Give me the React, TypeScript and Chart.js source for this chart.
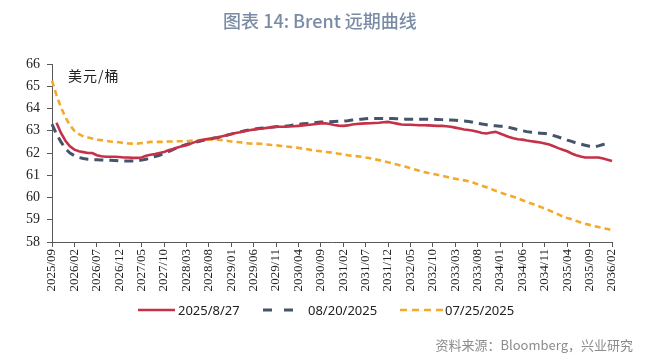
import React, { useEffect, useRef } from "react";
import { Chart, registerables } from "chart.js";

Chart.register(...registerables);

function monthLabels(startYear: number, startMonth: number, count: number): string[] {
  const out: string[] = [];
  let y = startYear;
  let m = startMonth;
  for (let i = 0; i < count; i++) {
    out.push(`${y}/${m < 10 ? "0" + m : m}`);
    m++;
    if (m > 12) { m = 1; y++; }
  }
  return out;
}

const categories: string[] = monthLabels(2025, 9, 126);

const yTicks: number[] = [58, 59, 60, 61, 62, 63, 64, 65, 66];

const seriesNames: string[] = ["2025/8/27", "08/20/2025", "07/25/2025"];

const curve0827: (number | null)[] = [
  null, 63.36, 62.9, 62.55, 62.3, 62.15, 62.08, 62.04, 62.0, 62.0,
  61.9, 61.85, 61.83, 61.83, 61.83, 61.82, 61.8, 61.8, 61.78, 61.78,
  61.8, 61.88, 61.92, 61.95, 62.0, 62.05, 62.12, 62.18, 62.25, 62.3,
  62.35, 62.42, 62.5, 62.56, 62.6, 62.64, 62.67, 62.7, 62.75, 62.8,
  62.85, 62.9, 62.93, 62.98, 63.02, 63.05, 63.08, 63.1, 63.13, 63.16,
  63.18, 63.18, 63.18, 63.19, 63.2, 63.22, 63.24, 63.26, 63.28, 63.3,
  63.33, 63.34, 63.3, 63.26, 63.23, 63.22, 63.24, 63.28, 63.3, 63.32,
  63.33, 63.34, 63.35, 63.36, 63.38, 63.4, 63.36, 63.32, 63.28, 63.27,
  63.27, 63.26, 63.25, 63.25, 63.24, 63.23, 63.22, 63.22, 63.2, 63.18,
  63.14, 63.1, 63.06, 63.03, 63.0, 62.95, 62.9, 62.88, 62.92, 62.95,
  62.88, 62.8, 62.72, 62.66, 62.62, 62.6, 62.56, 62.53, 62.5, 62.47,
  62.43, 62.38, 62.3, 62.22, 62.15, 62.08, 61.98, 61.9, 61.84, 61.8,
  61.8, 61.8, 61.8, 61.75, 61.7, 61.64,
];

const curve0820: (number | null)[] = [
  63.3, 62.85, 62.5, 62.2, 62.0, 61.88, 61.8, 61.75, 61.72, 61.7,
  61.7, 61.69, 61.68, 61.67, 61.66, 61.65, 61.64, 61.64, 61.64, 61.65,
  61.68, 61.72, 61.78, 61.84, 61.9, 61.98, 62.06, 62.15, 62.25, 62.32,
  62.38, 62.43, 62.48, 62.53, 62.58, 62.62, 62.66, 62.7, 62.75, 62.8,
  62.85, 62.9, 62.95, 63.0, 63.04, 63.07, 63.1, 63.12, 63.14, 63.16,
  63.18, 63.19, 63.2, 63.23, 63.26, 63.29, 63.31, 63.33, 63.35, 63.37,
  63.39, 63.4, 63.41, 63.42, 63.43, 63.43, 63.45, 63.48, 63.5, 63.52,
  63.54, 63.55, 63.55, 63.55, 63.55, 63.55, 63.55, 63.54, 63.53, 63.52,
  63.52, 63.52, 63.52, 63.52, 63.52, 63.52, 63.51, 63.5, 63.49, 63.48,
  63.47, 63.45, 63.44, 63.42, 63.38, 63.34, 63.3, 63.27, 63.24, 63.22,
  63.2, 63.2, 63.15, 63.1, 63.05, 63.0, 62.96, 62.93, 62.9, 62.89,
  62.88, 62.84, 62.78, 62.72, 62.65, 62.58, 62.52, 62.45, 62.4, 62.35,
  62.3, 62.27, 62.32, 62.38, 62.42, null,
];

const curve0725: (number | null)[] = [
  65.25, 64.6, 64.05, 63.6, 63.25, 63.0, 62.85, 62.75, 62.7, 62.65,
  62.6, 62.58, 62.55, 62.52, 62.5, 62.48, 62.45, 62.43, 62.42, 62.42,
  62.45, 62.47, 62.5, 62.5, 62.5, 62.5, 62.52, 62.52, 62.53, 62.53,
  62.53, 62.55, 62.56, 62.58, 62.6, 62.6, 62.6, 62.6, 62.58, 62.55,
  62.52, 62.5, 62.48, 62.45, 62.43, 62.42, 62.42, 62.4, 62.38, 62.36,
  62.35, 62.32, 62.3, 62.28, 62.25, 62.23, 62.2, 62.17, 62.13, 62.1,
  62.08, 62.05, 62.03, 62.0, 61.97, 61.94, 61.9, 61.88, 61.86, 61.83,
  61.8, 61.76, 61.72, 61.68, 61.64, 61.58, 61.53, 61.48, 61.43, 61.38,
  61.32, 61.26, 61.2, 61.15, 61.1, 61.06, 61.02, 60.98, 60.93, 60.88,
  60.84, 60.8, 60.77, 60.73, 60.67, 60.6, 60.53, 60.46, 60.38, 60.3,
  60.23, 60.16, 60.1, 60.03, 59.96, 59.88, 59.8, 59.73, 59.66, 59.58,
  59.5, 59.42, 59.33, 59.24, 59.15, 59.08, 59.02, 58.95, 58.88, 58.82,
  58.77, 58.72, 58.67, 58.62, 58.58, 58.53,
];

const RED = "#C43148";
const BLUE = "#44546A";
const GOLD = "#F3A92A";

export default function App() {
  const canvasRef = useRef<HTMLCanvasElement | null>(null);

  useEffect(() => {
    if (!canvasRef.current) return;
    const chart = new Chart(canvasRef.current, {
      type: "line",
      data: {
        labels: categories,
        datasets: [
          {
            label: seriesNames[0],
            data: curve0827,
            borderColor: RED,
            backgroundColor: RED,
            borderWidth: 2.6,
            pointRadius: 0,
            tension: 0,
          },
          {
            label: seriesNames[1],
            data: curve0820,
            borderColor: BLUE,
            backgroundColor: BLUE,
            borderWidth: 3,
            borderDash: [9, 6],
            pointRadius: 0,
            tension: 0,
          },
          {
            label: seriesNames[2],
            data: curve0725,
            borderColor: GOLD,
            backgroundColor: GOLD,
            borderWidth: 2.6,
            borderDash: [6, 4],
            pointRadius: 0,
            tension: 0,
          },
        ],
      },
      options: {
        animation: false,
        responsive: false,
        maintainAspectRatio: false,
        layout: { padding: { left: 0, right: 48, top: 64, bottom: 0 } },
        plugins: {
          legend: { display: false },
          tooltip: { enabled: false },
          title: { display: false },
        },
        scales: {
          x: {
            type: "category",
            offset: false,
            grid: {
              display: true,
              drawOnChartArea: false,
              drawTicks: true,
              tickLength: 5,
              color: "#595959",
            },
            border: { display: true, color: "#595959", width: 1 },
            ticks: {
              autoSkip: false,
              maxRotation: 90,
              minRotation: 90,
              padding: 2,
              color: "#222",
              font: { family: "'Liberation Serif', serif", size: 13 },
              callback: (_v: any, index: number) =>
                index % 5 === 0 ? categories[index] : null,
            },
            afterFit: (s: any) => {
              s.height = 117;
            },
          },
          y: {
            min: yTicks[0],
            max: yTicks[yTicks.length - 1],
            afterBuildTicks: (s: any) => {
              s.ticks = yTicks.map((v) => ({ value: v }));
            },
            grid: {
              display: true,
              drawOnChartArea: false,
              drawTicks: true,
              tickLength: 5,
              color: "#595959",
            },
            border: { display: true, color: "#595959", width: 1 },
            ticks: {
              padding: 7,
              color: "#222",
              font: { family: "'Liberation Serif', serif", size: 14 },
            },
            afterFit: (s: any) => {
              s.width = 52;
            },
          },
        },
      },
    });
    return () => chart.destroy();
  }, []);

  const legendText: React.CSSProperties = {
    position: "absolute",
    top: 301,
    fontFamily: "'Noto Sans', sans-serif",
    fontSize: 13,
    color: "#222",
    lineHeight: "18px",
    whiteSpace: "nowrap",
  };

  return (
    <div
      style={{
        position: "fixed",
        left: 0,
        top: 0,
        width: 660,
        height: 359,
        background: "#fff",
        overflow: "hidden",
      }}
    >
      <canvas
        ref={canvasRef}
        width={660}
        height={359}
        style={{ position: "absolute", left: 0, top: 0, width: 660, height: 359 }}
      />
      <div
        style={{
          position: "absolute",
          left: 0,
          top: 8,
          width: 640,
          textAlign: "center",
          fontFamily: "'Noto Sans CJK SC', sans-serif",
          fontSize: 18,
          fontWeight: 500,
          color: "#7A8BA5",
          lineHeight: "24px",
        }}
      >
        图表 14: Brent 远期曲线
      </div>
      <div
        style={{
          position: "absolute",
          left: 68,
          top: 65,
          fontFamily: "'Noto Sans CJK SC', sans-serif",
          fontSize: 14,
          color: "#222",
          lineHeight: "20px",
          letterSpacing: 1,
        }}
      >
        美元/桶
      </div>
      <svg
        width={660}
        height={20}
        style={{ position: "absolute", left: 0, top: 300 }}
      >
        <line x1={138} y1={10} x2={175} y2={10} stroke={RED} strokeWidth={2.6} />
        <line
          x1={263}
          y1={10}
          x2={294}
          y2={10}
          stroke={BLUE}
          strokeWidth={3}
          strokeDasharray="9 12"
        />
        <line
          x1={400}
          y1={10}
          x2={444}
          y2={10}
          stroke={GOLD}
          strokeWidth={2.6}
          strokeDasharray="7 5"
        />
      </svg>
      <div style={{ ...legendText, left: 178 }}>{seriesNames[0]}</div>
      <div style={{ ...legendText, left: 308 }}>{seriesNames[1]}</div>
      <div style={{ ...legendText, left: 445 }}>{seriesNames[2]}</div>
      <div
        style={{
          position: "absolute",
          right: 27,
          top: 335,
          fontFamily: "'Noto Sans CJK SC', sans-serif",
          fontSize: 13,
          color: "#8C8C8C",
          lineHeight: "20px",
          whiteSpace: "nowrap",
        }}
      >
        资料来源：Bloomberg，兴业研究
      </div>
    </div>
  );
}
